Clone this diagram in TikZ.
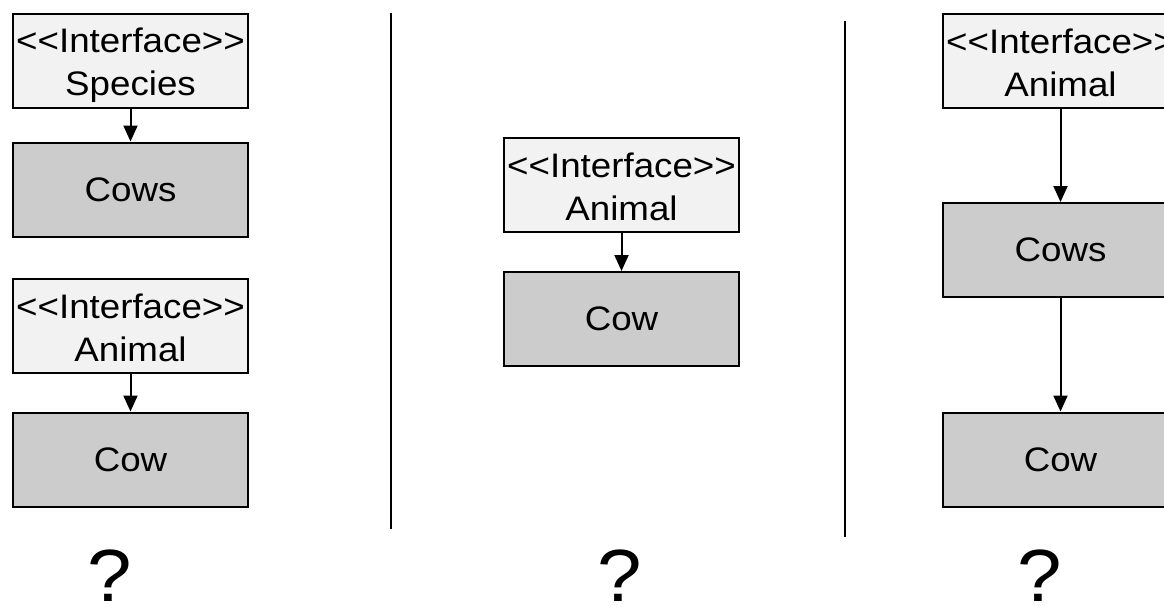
\documentclass[tikz,border=0pt]{standalone}
\usepackage{fontspec}
\setmainfont[FakeStretch=1.08, Ligatures=TeXOff]{Liberation Sans}
\usetikzlibrary{arrows.meta}
\definecolor{ifill}{HTML}{F2F2F2}
\definecolor{cfill}{HTML}{CCCCCC}
\newcommand\ifacelabel[1]{\rule{0pt}{33pt}<<Interface>>\\#1\rule[-6pt]{0pt}{6pt}}
\tikzset{
  base/.style={draw=black, line width=2pt, minimum width=235pt, minimum height=94pt,
    inner xsep=0pt, inner ysep=0pt, align=center},
  ibox/.style={base, fill=ifill, font=\fontsize{34}{43}\selectfont},
  cbox/.style={base, fill=cfill, font=\fontsize{34}{43}\selectfont},
  conn/.style={line width=2pt, -{Triangle[length=16pt,width=14pt]}},
  sep/.style={line width=2pt},
  qmark/.style={anchor=base, font=\fontsize{74}{80}\selectfont, inner sep=0pt}
}
\begin{document}
\begin{tikzpicture}[x=1pt,y=-1pt]
\path[use as bounding box] (0,0) rectangle (1164,606);
\clip (0,0) rectangle (1164,606);
\fill[white] (0,0) rectangle (1164,606);
% left column
\node[ibox] (lsp) at (130.5,61) {\ifacelabel{Species}};
\node[cbox] (lcows) at (130.5,189.5) {Cows};
\node[ibox] (lan) at (130.5,326) {\ifacelabel{Animal}};
\node[cbox] (lcow) at (130.5,459.5) {Cow};
\draw[conn] (lsp.south) -- (lcows.north);
\draw[conn] (lan.south) -- (lcow.north);
\node[qmark] (lq) at (110,601) {?};
% separators
\coordinate (s1t) at (391,13);
\coordinate (s1b) at (391,529);
\coordinate (s2t) at (845,21);
\coordinate (s2b) at (845,537);
\draw[sep] (s1t) -- (s1b);
\draw[sep] (s2t) -- (s2b);
% middle column
\node[ibox] (man) at (621.5,185) {\ifacelabel{Animal}};
\node[cbox] (mcow) at (621.5,319) {Cow};
\draw[conn] (man.south) -- (mcow.north);
\node[qmark] (mq) at (620,601) {?};
% right column
\node[ibox] (ran) at (1060.5,61) {\ifacelabel{Animal}};
\node[cbox] (rcows) at (1060.5,250) {Cows};
\node[cbox] (rcow) at (1060.5,459.5) {Cow};
\draw[conn] (ran.south) -- (rcows.north);
\draw[conn] (rcows.south) -- (rcow.north);
\node[qmark] (rq) at (1040,601) {?};
\end{tikzpicture}
\end{document}
